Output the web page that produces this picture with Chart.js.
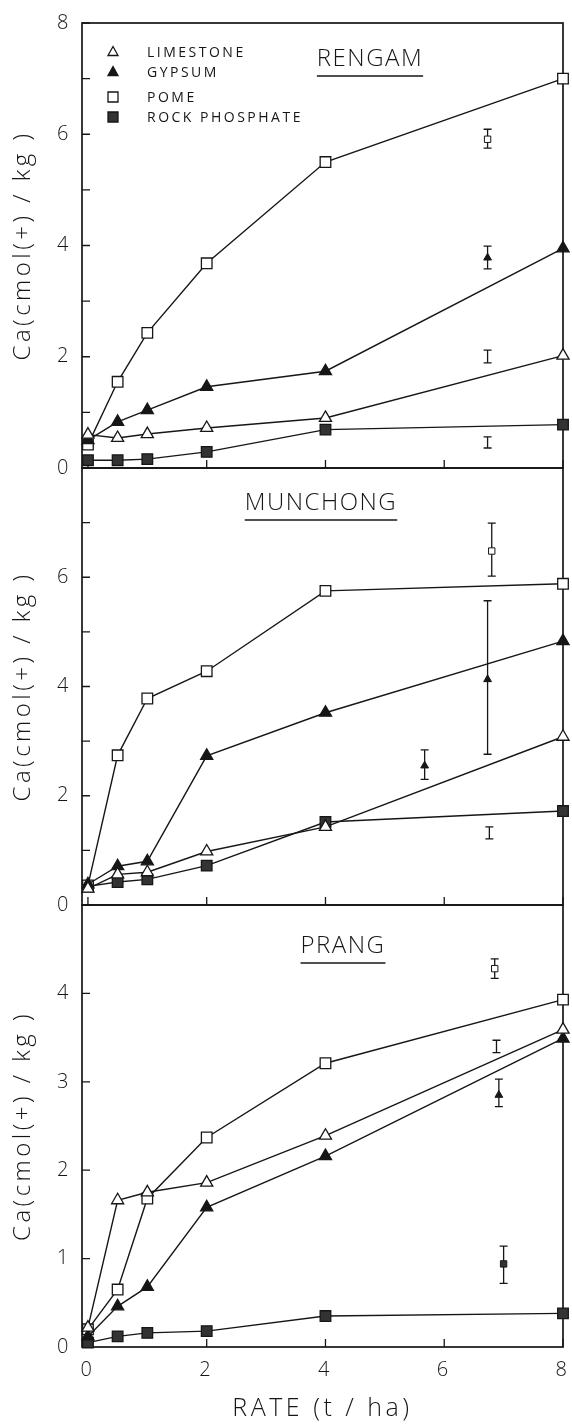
<!DOCTYPE html>
<html>
<head>
<meta charset="utf-8">
<script src="https://cdn.jsdelivr.net/npm/chart.js@4.4.1/dist/chart.umd.min.js"></script>
<style>
  html, body { margin: 0; padding: 0; background: #fff; }
  #wrap { position: relative; width: 572px; height: 1426px; overflow: hidden; }
  #wrap canvas { position: absolute; left: 0; }
</style>
</head>
<body>
<div id="wrap">
  <canvas id="rengam" width="572" height="512" style="top:-7px"></canvas>
  <canvas id="munchong" width="572" height="497" style="top:438px"></canvas>
  <canvas id="prang" width="572" height="551" style="top:875px"></canvas>
</div>
<script>
// application rate, t/ha
const rates = [0, 0.5, 1, 2, 4, 8];
const legendNames = ['LIMESTONE', 'GYPSUM', 'POME', 'ROCK PHOSPHATE'];
const xTickVals = [0, 2, 4, 6, 8];
const yAxisTitle = 'Ca(cmol(+) / kg )';

// Rengam
const rengamLimestone = [0.6, 0.54, 0.61, 0.72, 0.9, 2.02];
const rengamGypsum = [0.5, 0.83, 1.04, 1.46, 1.74, 3.95];
const rengamPome = [0.42, 1.55, 2.43, 3.68, 5.5, 7.0];
const rengamRock = [0.14, 0.14, 0.16, 0.29, 0.69, 0.78];
const rengamErrX = [6.73, 6.73, 6.73, 6.73];
const rengamErrY = [5.91, 3.78, 2.0, 0.46];
const rengamErrLo = [5.75, 3.58, 1.89, 0.36];
const rengamErrHi = [6.09, 3.99, 2.12, 0.56];
const rengamErrSym = ['pome', 'gypsum', '', ''];
const rengamYLabels = [0, 2, 4, 6, 8];

// Munchong
const munchongLimestone = [0.3, 0.56, 0.6, 0.98, 1.43, 3.08];
const munchongGypsum = [0.38, 0.71, 0.8, 2.73, 3.52, 4.83];
const munchongPome = [0.36, 2.74, 3.78, 4.28, 5.75, 5.88];
const munchongRock = [0.34, 0.42, 0.47, 0.72, 1.52, 1.72];
const munchongErrX = [6.8, 6.73, 5.67, 6.76];
const munchongErrY = [6.48, 4.13, 2.55, 1.32];
const munchongErrLo = [6.02, 2.76, 2.3, 1.21];
const munchongErrHi = [6.99, 5.57, 2.84, 1.43];
const munchongErrSym = ['pome', 'gypsum', 'gypsum', ''];
const munchongYLabels = [0, 2, 4, 6];

// Prang
const prangLimestone = [0.22, 1.66, 1.75, 1.86, 2.39, 3.59];
const prangGypsum = [0.12, 0.46, 0.68, 1.58, 2.16, 3.49];
const prangPome = [0.2, 0.65, 1.68, 2.37, 3.21, 3.93];
const prangRock = [0.05, 0.12, 0.16, 0.18, 0.35, 0.38];
const prangErrX = [6.85, 6.88, 6.92, 7.0];
const prangErrY = [4.28, 3.4, 2.85, 0.94];
const prangErrLo = [4.17, 3.33, 2.72, 0.72];
const prangErrHi = [4.39, 3.47, 3.03, 1.14];
const prangErrSym = ['pome', '', 'gypsum', 'rock'];
const prangYLabels = [0, 1, 2, 3, 4];

const INK = '#161616';
const FONT = "'Open Sans', 'DejaVu Sans', sans-serif";

const SYMBOLS = {
  limestone: { style: 'triangle', fill: '#fff' },
  gypsum: { style: 'triangle', fill: INK },
  pome: { style: 'rect', fill: '#fff' },
  rock: { style: 'rect', fill: '#333' }
};
const symOrder = ['limestone', 'gypsum', 'pome', 'rock'];

function lineSet(label, values, key) {
  const s = SYMBOLS[key];
  return {
    label: label,
    data: rates.map((x, i) => ({ x: x, y: values[i] })),
    showLine: true,
    clip: false,
    borderColor: INK,
    borderWidth: 1.4,
    pointStyle: s.style,
    pointRadius: s.style === 'rect' ? 7.5 : 7,
    pointBackgroundColor: s.fill,
    pointBorderColor: INK,
    pointBorderWidth: 1.3
  };
}

function errSet(xs, ys, syms) {
  return {
    label: 'means',
    data: xs.map((x, i) => ({ x: x, y: ys[i] })),
    showLine: false,
    clip: false,
    pointStyle: syms.map(k => k ? SYMBOLS[k].style : 'circle'),
    pointRadius: syms.map(k => k ? 4.5 : 0),
    pointBackgroundColor: syms.map(k => k ? SYMBOLS[k].fill : '#fff'),
    pointBorderColor: INK,
    pointBorderWidth: 1
  };
}

function drawSymbol(ctx, key, x, y) {
  const s = SYMBOLS[key];
  ctx.beginPath();
  if (s.style === 'triangle') {
    ctx.moveTo(x, y - 5.5);
    ctx.lineTo(x + 5, y + 3.5);
    ctx.lineTo(x - 5, y + 3.5);
    ctx.closePath();
  } else {
    ctx.rect(x - 5, y - 5, 10, 10);
  }
  ctx.fillStyle = s.fill;
  ctx.fill();
  ctx.lineWidth = 1.3;
  ctx.strokeStyle = INK;
  ctx.stroke();
}

// frame, inward ticks, error bars, panel title and legend
const panelPlugin = {
  id: 'panel',
  beforeDraw(chart) {
    // wide lettering like the original drawing
    chart.ctx.letterSpacing = '3.5px';
  },
  beforeDatasetsDraw(chart, args, opts) {
    const ctx = chart.ctx;
    const a = chart.chartArea;
    const xs = chart.scales.x, ys = chart.scales.y;
    ctx.save();
    ctx.strokeStyle = INK;
    ctx.lineWidth = 1.7;
    ctx.strokeRect(a.left, a.top, a.right - a.left, a.bottom - a.top);
    ctx.lineWidth = 1.3;
    ctx.beginPath();
    ys.ticks.forEach(t => {
      const py = ys.getPixelForValue(t.value);
      ctx.moveTo(a.left, py);
      ctx.lineTo(a.left + 8, py);
    });
    xs.ticks.forEach(t => {
      const px = xs.getPixelForValue(t.value);
      ctx.moveTo(px, a.bottom);
      ctx.lineTo(px, a.bottom - 8);
    });
    ctx.stroke();
    // error bars
    ctx.lineWidth = 1.3;
    ctx.beginPath();
    opts.errX.forEach((x, i) => {
      const px = xs.getPixelForValue(x);
      const lo = ys.getPixelForValue(opts.errLo[i]);
      const hi = ys.getPixelForValue(opts.errHi[i]);
      ctx.moveTo(px, lo); ctx.lineTo(px, hi);
      ctx.moveTo(px - 4, lo); ctx.lineTo(px + 4, lo);
      ctx.moveTo(px - 4, hi); ctx.lineTo(px + 4, hi);
    });
    ctx.stroke();
    ctx.restore();
  },
  afterDraw(chart, args, opts) {
    const ctx = chart.ctx;
    ctx.save();
    ctx.fillStyle = INK;
    ctx.strokeStyle = INK;
    ctx.font = '300 24px ' + FONT;
    ctx.letterSpacing = '1.5px';
    ctx.textAlign = 'center';
    ctx.textBaseline = 'middle';
    ctx.fillText(opts.title, opts.titleX, opts.titleY);
    const w = ctx.measureText(opts.title).width;
    ctx.lineWidth = 1.5;
    ctx.beginPath();
    ctx.moveTo(opts.titleX - w / 2, opts.titleY + 17);
    ctx.lineTo(opts.titleX + w / 2, opts.titleY + 17);
    ctx.stroke();
    if (opts.legend) {
      const rows = [59, 79, 104, 124];
      ctx.font = '400 14px ' + FONT;
      ctx.letterSpacing = '2.5px';
      ctx.textAlign = 'left';
      legendNames.forEach((name, i) => {
        drawSymbol(ctx, symOrder[i], 113, rows[i]);
        ctx.fillStyle = INK;
        ctx.fillText(name, 147, rows[i] + 1);
      });
    }
    ctx.restore();
  }
};

function makePanel(id, cfg) {
  return new Chart(document.getElementById(id), {
    type: 'scatter',
    data: {
      datasets: [
        lineSet('Limestone', cfg.limestone, 'limestone'),
        lineSet('Gypsum', cfg.gypsum, 'gypsum'),
        lineSet('POME', cfg.pome, 'pome'),
        lineSet('Rock phosphate', cfg.rock, 'rock'),
        errSet(cfg.errX, cfg.errY, cfg.errSym)
      ]
    },
    options: {
      responsive: false,
      animation: false,
      layout: { padding: { top: 30, right: 9, left: 0, bottom: 0 } },
      plugins: {
        legend: { display: false },
        tooltip: { enabled: false },
        panel: {
          title: cfg.title, titleX: cfg.titleX, titleY: cfg.titleY, legend: cfg.legend,
          errX: cfg.errX, errLo: cfg.errLo, errHi: cfg.errHi
        }
      },
      scales: {
        x: {
          type: 'linear',
          min: -0.1,
          max: 8,
          afterBuildTicks: s => { s.ticks = xTickVals.map(v => ({ value: v })); },
          afterFit: s => { s.height = cfg.xHeight; s.paddingLeft = 0; s.paddingRight = 0; },
          grid: { display: false, drawTicks: false },
          border: { display: false },
          ticks: { display: cfg.showX, padding: 11, color: INK, font: { family: FONT, size: 20, weight: '300' } },
          title: { display: cfg.showX, text: 'RATE (t / ha)', color: INK, padding: { top: 0, bottom: 2 },
                   font: { family: FONT, size: 25, weight: '300' } }
        },
        y: {
          min: 0,
          max: cfg.yMax,
          afterBuildTicks: s => {
            const t = [];
            for (let v = 0; v <= cfg.yMax; v++) t.push({ value: v });
            s.ticks = t;
          },
          afterFit: s => { s.width = 82; s.paddingTop = 0; s.paddingBottom = 0; },
          grid: { display: false, drawTicks: false },
          border: { display: false },
          ticks: {
            padding: 10,
            color: INK,
            font: { family: FONT, size: 20, weight: '300' },
            callback: v => cfg.yLabels.includes(v) ? String(v) : ''
          },
          title: { display: true, text: yAxisTitle, color: INK, padding: { top: 9, bottom: 0 },
                   font: { family: FONT, size: 24, weight: '300' } }
        }
      }
    },
    plugins: [panelPlugin]
  });
}

// canvas tops: rengam -7, munchong 438, prang 875 (plot areas 23-468, 468-905, 905-1347)
makePanel('rengam', {
  limestone: rengamLimestone, gypsum: rengamGypsum, pome: rengamPome, rock: rengamRock,
  errX: rengamErrX, errY: rengamErrY, errLo: rengamErrLo, errHi: rengamErrHi, errSym: rengamErrSym,
  yLabels: rengamYLabels, yMax: 8, xHeight: 37, showX: false,
  title: 'RENGAM', titleX: 370, titleY: 66, legend: true
});

makePanel('munchong', {
  limestone: munchongLimestone, gypsum: munchongGypsum, pome: munchongPome, rock: munchongRock,
  errX: munchongErrX, errY: munchongErrY, errLo: munchongErrLo, errHi: munchongErrHi, errSym: munchongErrSym,
  yLabels: munchongYLabels, yMax: 8, xHeight: 30, showX: false,
  title: 'MUNCHONG', titleX: 321, titleY: 65, legend: false
});

makePanel('prang', {
  limestone: prangLimestone, gypsum: prangGypsum, pome: prangPome, rock: prangRock,
  errX: prangErrX, errY: prangErrY, errLo: prangErrLo, errHi: prangErrHi, errSym: prangErrSym,
  yLabels: prangYLabels, yMax: 5, xHeight: 79, showX: true,
  title: 'PRANG', titleX: 343, titleY: 71, legend: false
});
</script>
</body>
</html>
